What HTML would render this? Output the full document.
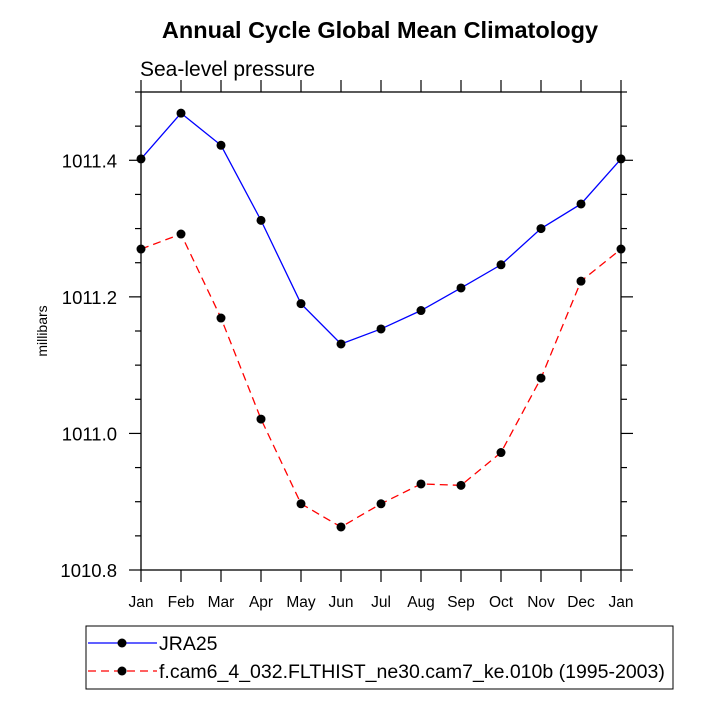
<!DOCTYPE html>
<html><head><meta charset="utf-8"><style>
body{margin:0;background:#fff}
svg{display:block;font-family:"Liberation Sans",Helvetica,sans-serif}
</style></head><body>
<svg id="c" width="708" height="708" viewBox="0 0 708 708">
<text x="380" y="38" text-anchor="middle" font-size="23.5" font-weight="bold">Annual Cycle Global Mean Climatology</text>
<text x="140" y="76" font-size="21">Sea-level pressure</text>
<text transform="translate(47,331) rotate(-90)" text-anchor="middle" font-size="14">millibars</text>
<g id="axes"></g>
<g id="series"></g>
<rect x="86" y="626" width="587" height="63" fill="none" stroke="#000" stroke-width="1"/>
<g>
<line x1="88" y1="643" x2="157" y2="643" stroke="#00f" stroke-width="1.3"/>
<circle cx="122" cy="643" r="4.5"/>
<text x="159" y="650" font-size="19.5">JRA25</text></g>
<g>
<line x1="88" y1="671" x2="157" y2="671" stroke="#f00" stroke-width="1.3" stroke-dasharray="8,5"/>
<circle cx="122" cy="671" r="4.5"/>
<text x="159" y="678" font-size="19.5">f.cam6_4_032.FLTHIST_ne30.cam7_ke.010b (1995-2003)</text></g>
</svg>
<script>
const months=["Jan","Feb","Mar","Apr","May","Jun","Jul","Aug","Sep","Oct","Nov","Dec","Jan"];
const jra25=[1011.402,1011.469,1011.422,1011.312,1011.19,1011.131,1011.153,1011.18,1011.213,1011.247,1011.3,1011.336,1011.402];
const cam6=[1011.27,1011.292,1011.169,1011.021,1010.897,1010.863,1010.897,1010.926,1010.924,1010.972,1011.081,1011.223,1011.27];
const yTicks=[1010.8,1011.0,1011.2,1011.4];
const yMin=1010.8,yMax=1011.5;
const L=141,R=621,T=92,B=570;
const NS="http://www.w3.org/2000/svg";
const xs=i=>L+(R-L)*i/(months.length-1);
const ys=v=>B-(B-T)*(v-yMin)/(yMax-yMin);
function mk(tag,attrs,parent){const e=document.createElementNS(NS,tag);for(const k in attrs)e.setAttribute(k,attrs[k]);parent.appendChild(e);return e;}
const ax=document.getElementById('axes');
const frame=mk('rect',{x:L,y:T,width:R-L,height:B-T,fill:'none',stroke:'#000','stroke-width':1.3},ax);


months.forEach((m,i)=>{
  const x=xs(i);
  mk('line',{x1:x,y1:B,x2:x,y2:B+12,stroke:'#000','stroke-width':1.2},ax);
  mk('line',{x1:x,y1:T,x2:x,y2:T-12,stroke:'#000','stroke-width':1.2},ax);
  const t=mk('text',{x:x,y:B+37,'text-anchor':'middle','font-size':15.5},ax);
  t.textContent=m;
  
  
});
for(let v=yMin;v<=yMax+1e-9;v+=0.05){
  const y=ys(v);const major=yTicks.some(t=>Math.abs(t-v)<1e-6);const len=major?12:6;
  mk('line',{x1:L,y1:y,x2:L-len,y2:y,stroke:'#000','stroke-width':1.2},ax);
  mk('line',{x1:R,y1:y,x2:R+len,y2:y,stroke:'#000','stroke-width':1.2},ax);
}
yTicks.forEach(v=>{
  const t=mk('text',{x:L-24,y:ys(v)+7,'text-anchor':'end','font-size':18.5},ax);
  t.textContent=v.toFixed(1);
  
  
});
const sg=document.getElementById('series');
function series(data,color,dash,name){
  const g=mk('g',{},sg);
  
  
  const pl=mk('polyline',{points:data.map((v,i)=>xs(i)+','+ys(v)).join(' '),fill:'none',stroke:color,'stroke-width':1.3},g);
  if(dash)pl.setAttribute('stroke-dasharray',dash);
  data.forEach((v,i)=>{const c=mk('circle',{cx:xs(i),cy:ys(v),r:4.5,fill:'#000'},g);
    
    });
}
series(jra25,'#00f',null,'series-jra25');
series(cam6,'#f00','8,5','series-cam6');
</script>
</body></html>
